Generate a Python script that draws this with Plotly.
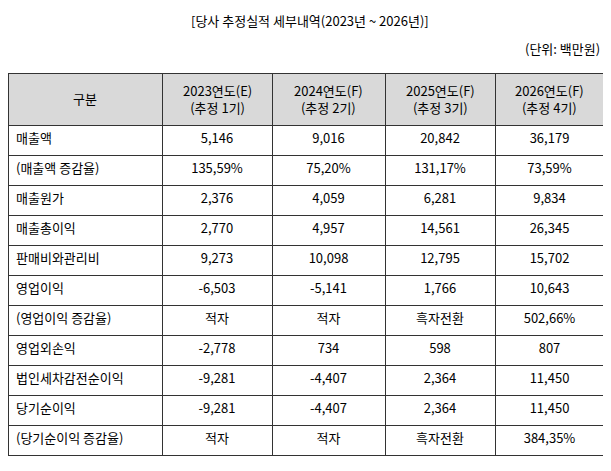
import plotly.graph_objects as go

headers = ["구분", "2023연도(E)<br>(추정 1기)", "2024연도(F)<br>(추정 2기)", "2025연도(F)<br>(추정 3기)", "2026연도(F)<br>(추정 4기)"]
items = ["매출액", "(매출액 증감율)", "매출원가", "매출총이익", "판매비와관리비", "영업이익",
         "(영업이익 증감율)", "영업외손익", "법인세차감전순이익", "당기순이익", "(당기순이익 증감율)"]
y2023 = ["5,146", "135,59%", "2,376", "2,770", "9,273", "-6,503", "적자", "-2,778", "-9,281", "-9,281", "적자"]
y2024 = ["9,016", "75,20%", "4,059", "4,957", "10,098", "-5,141", "적자", "734", "-4,407", "-4,407", "적자"]
y2025 = ["20,842", "131,17%", "6,281", "14,561", "12,795", "1,766", "흑자전환", "598", "2,364", "2,364", "흑자전환"]
y2026 = ["36,179", "73,59%", "9,834", "26,345", "15,702", "10,643", "502,66%", "807", "11,450", "11,450", "384,35%"]

OFF = 8  # default page body margin
W, H = 611 - OFF - 4, 471 - OFF
font = dict(family="Noto Sans CJK KR", size=13, color="black")

colw = [154, 110, 113, 110, 109]
tw = sum(colw)
x0 = 0
top = 73 - OFF
hdr_h = 52

fig = go.Figure(go.Table(
    columnwidth=colw,
    domain=dict(x=[x0 / W, (x0 + tw) / W], y=[0, 1 - top / H]),
    header=dict(values=[""] * 5, fill_color="#d9d9d9", line=dict(color="#333", width=1),
                align="center", height=hdr_h, font=font),
    cells=dict(values=[items, y2023, y2024, y2025, y2026], fill_color="white",
               line=dict(color="#333", width=1), align=["left", "center", "center", "center", "center"],
               height=30, font=font),
))

anns = [
    dict(text="[당사 추정실적 세부내역(2023년 ~ 2026년)]", x=(310 - OFF) / W, y=1 - (20 - OFF) / H,
         xanchor="center"),
    dict(text="(단위: 백만원)", x=(602 - OFF) / W, y=1 - (49 - OFF) / H, xanchor="right"),
]
cx = x0
for label, w in zip(headers, colw):
    anns.append(dict(text=label, x=(cx + w / 2) / W, y=1 - (top + hdr_h / 2) / H, xanchor="center"))
    cx += w
for a in anns:
    a.update(xref="paper", yref="paper", showarrow=False, font=font, yanchor="middle")

fig.update_layout(width=W, height=H, margin=dict(l=0, r=0, t=0, b=0), paper_bgcolor="white",
                  annotations=anns)
fig.write_html("out.html")
